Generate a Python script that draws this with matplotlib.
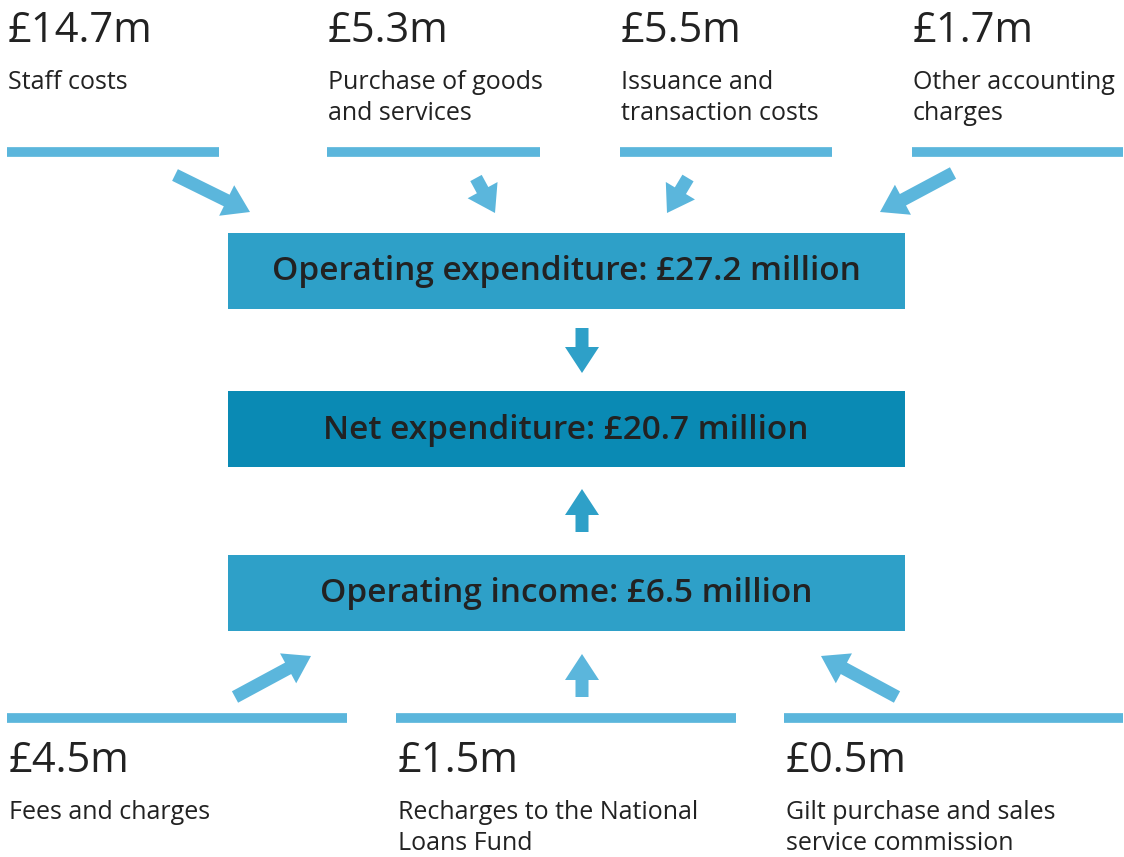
import matplotlib.pyplot as plt
from matplotlib.patches import Rectangle, FancyArrow

# data
top_values = [14.7, 5.3, 5.5, 1.7]
top_labels = ["Staff costs", "Purchase of goods\nand services",
              "Issuance and\ntransaction costs", "Other accounting\ncharges"]
bottom_values = [4.5, 1.5, 0.5]
bottom_labels = ["Fees and charges", "Recharges to the National\nLoans Fund",
                 "Gilt purchase and sales\nservice commission"]
box_titles = ["Operating expenditure", "Net expenditure", "Operating income"]
box_values = [27.2, 20.7, 6.5]

LIGHT = "#5bb6dc"
BOX = "#2ea0c8"
NET = "#0a8ab4"
TXT = "#222222"

plt.rcParams['font.family'] = ['Open Sans', 'DejaVu Sans']

W, H = 1124, 857
fig = plt.figure(figsize=(W / 100, H / 100), dpi=100)
ax = fig.add_axes([0, 0, 1, 1])
ax.set_xlim(0, W)
ax.set_ylim(H, 0)
ax.axis('off')


def arrow(x0, y0, x1, y1, color):
    dx, dy = x1 - x0, y1 - y0
    ax.add_patch(FancyArrow(x0, y0, dx, dy, width=13, head_width=34,
                            head_length=26, length_includes_head=True,
                            color=color, lw=0))


# top items
top_x = [(7, 219), (327, 540), (620, 832), (912, 1123)]
top_arrows = [(175, 175, 250, 212), (476, 178, 495, 213),
              (688, 178, 667, 213), (953, 173, 880, 212)]
for (xa, xb), v, lab, a in zip(top_x, top_values, top_labels, top_arrows):
    ax.text(xa + 1, 31, f"£{v}m", fontsize=30, color=TXT, va='center', ha='left')
    ax.text(xa + 1, 70, lab, fontsize=18, color=TXT, va='top', ha='left',
            linespacing=1.32)
    ax.plot([xa, xb], [152, 152], color=LIGHT, lw=7, solid_capstyle='butt')
    arrow(*a, LIGHT)

# boxes
box_y = [233, 391, 555]
box_cols = [BOX, NET, BOX]
for y, t, v, c in zip(box_y, box_titles, box_values, box_cols):
    ax.add_patch(Rectangle((228, y), 677, 76, color=c, lw=0))
    ax.text(566, y + 39, f"{t}: £{v} million", fontsize=24, fontweight='semibold',
            color=TXT, ha='center', va='center')

arrow(582, 328, 582, 373, BOX)
arrow(582, 532, 582, 489, BOX)

# bottom items
bot_x = [(7, 347), (396, 736), (784, 1123)]
bot_arrows = [(235, 697, 311, 656), (582, 697, 582, 654), (897, 697, 821, 656)]
for (xa, xb), v, lab, a in zip(bot_x, bottom_values, bottom_labels, bot_arrows):
    ax.plot([xa, xb], [718, 718], color=LIGHT, lw=7, solid_capstyle='butt')
    ax.text(xa + 2, 761, f"£{v}m", fontsize=30, color=TXT, va='center', ha='left')
    ax.text(xa + 2, 800, lab, fontsize=18, color=TXT, va='top', ha='left',
            linespacing=1.32)
    arrow(*a, LIGHT)

fig.savefig("out.png", dpi=100, facecolor='white')
